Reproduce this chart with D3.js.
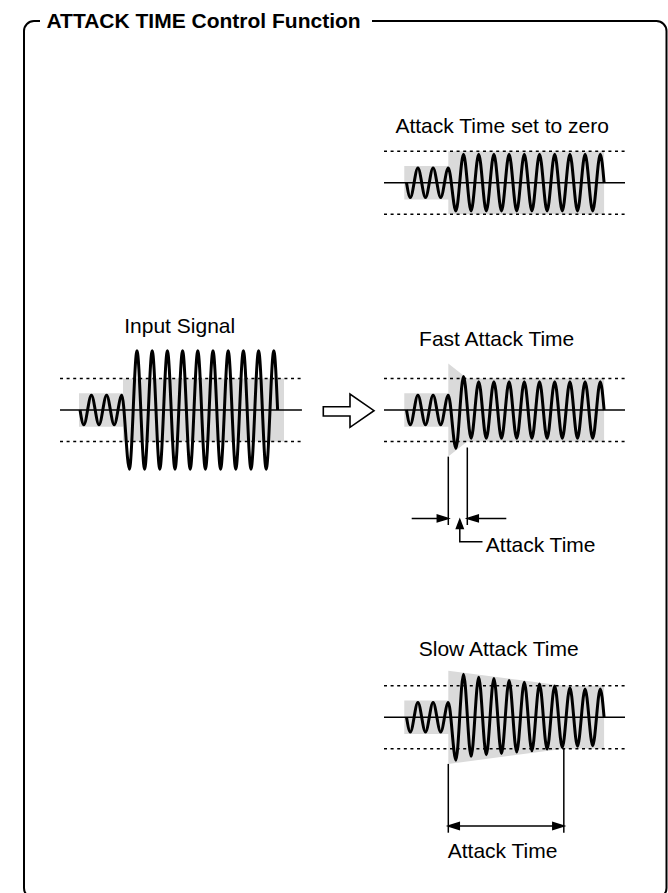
<!DOCTYPE html>
<html><head><meta charset="utf-8">
<script src="https://cdn.jsdelivr.net/npm/d3@7"></script>
<style>
html,body{margin:0;padding:0;background:#fff;}
svg{display:block;}
text{font-family:"Liberation Sans",Arial,Helvetica,sans-serif;fill:#000;}
</style>
</head><body>
<svg id="chart" width="668" height="893"></svg>
<script>
// ---------- DATA (peak amplitude of each half-cycle, threshold = 1) ----------
const inputPeaks = [0.47,0.47,0.47,0.47,0.47,0.47,
  1.88,1.88,1.88,1.88,1.88,1.88,1.88,1.88,1.88,1.88,
  1.88,1.88,1.88,1.88,1.88,1.88,1.88,1.88,1.88,1.88];
const zeroPeaks = [0.47,0.47,0.47,0.47,0.47,0.47,
  0.90,0.90,0.90,0.90,0.90,0.90,0.90,0.90,0.90,0.90,
  0.90,0.90,0.90,0.90,0.90,0.90,0.90,0.90,0.90,0.90];
const fastPeaks = [0.47,0.47,0.47,0.47,0.47,0.47,
  1.22,1.06,0.90,0.90,0.90,0.90,0.90,0.90,0.90,0.90,
  0.90,0.90,0.90,0.90,0.90,0.90,0.90,0.90,0.90,0.90];
const slowPeaks = [0.47,0.47,0.47,0.47,0.47,0.47,
  1.36,1.37,1.24,1.27,1.19,1.23,1.15,1.17,1.10,1.11,
  1.06,1.06,1.01,0.99,0.96,0.94,0.92,0.90,0.90,0.90];

// envelope (gray) : [time in half-cycles, level]
const inputEnvelope = [[-0.13,0.53],[5.66,0.53],[5.66,1.0],[26.84,1.0]];
const zeroEnvelope  = [[-0.29,0.53],[5.5,0.53],[5.5,1.0],[26,1.0]];
const fastEnvelope  = [[-0.29,0.53],[5.5,0.53],[5.5,1.48],[8.0,1.0],[26,1.0]];
const slowEnvelope  = [[-0.29,0.53],[5.5,0.53],[5.5,1.48],[20.7,1.0],[26,1.0]];

const thresholds = [-1, 1];
const labels = {
  title: "ATTACK TIME Control Function",
  input: "Input Signal",
  zero: "Attack Time set to zero",
  fast: "Fast Attack Time",
  slow: "Slow Attack Time",
  attack: "Attack Time"
};

// ---------- LAYOUT ----------
const W = 668, H = 893;
const svg = d3.select("#chart");
const unitPx = 31.5, waveWidth = 197.6;

const panels = [
  {key:"input", peaks:inputPeaks, env:inputEnvelope, x0:80,    cy:410,   lineT:[-2.63,29.2], tx:179.7, ty:333},
  {key:"zero",  peaks:zeroPeaks,  env:zeroEnvelope,  x0:406.5, cy:182.7, lineT:[-2.96,28.75], tx:502.2, ty:132.7},
  {key:"fast",  peaks:fastPeaks,  env:fastEnvelope,  x0:406.5, cy:410,   lineT:[-2.96,28.75], tx:496.7, ty:346},
  {key:"slow",  peaks:slowPeaks,  env:slowEnvelope,  x0:406.5, cy:717.3, lineT:[-2.96,28.75], tx:498.7, ty:656}
];

// frame with gap for title
svg.append("path")
  .attr("d","M372,21 H656.5 A10,10 0 0 1 666.5,31 V888 A10,10 0 0 1 656.5,898 H34 A10,10 0 0 1 24,888 V31 A10,10 0 0 1 34,21 H40")
  .attr("fill","none").attr("stroke","#000").attr("stroke-width",2);
svg.append("text").attr("x",46.5).attr("y",27.5)
  .attr("font-size",21).attr("font-weight","bold").text(labels.title);

panels.forEach(p => {
  p.x = d3.scaleLinear().domain([0,26]).range([p.x0, p.x0 + waveWidth]);
  p.y = d3.scaleLinear().domain([-1,1]).range([p.cy + unitPx, p.cy - unitPx]);
  const g = svg.append("g");
  // gray envelope
  g.append("path")
    .attr("d", d3.area().x(d=>p.x(d[0])).y0(d=>p.y(-d[1])).y1(d=>p.y(d[1]))(p.env))
    .attr("fill","#dadada");
  // threshold dotted lines
  g.selectAll("line.th").data(thresholds).join("line")
    .attr("x1",p.x(p.lineT[0])).attr("x2",p.x(p.lineT[1]))
    .attr("y1",d=>p.y(d)).attr("y2",d=>p.y(d))
    .attr("stroke","#000").attr("stroke-width",1.4).attr("stroke-dasharray","3,3.6");
  // center line
  g.append("line")
    .attr("x1",p.x(p.lineT[0])).attr("x2",p.x(p.lineT[1]))
    .attr("y1",p.y(0)).attr("y2",p.y(0))
    .attr("stroke","#000").attr("stroke-width",1.6);
  // waveform
  const pts = [[0,0]].concat(p.peaks.map((a,k)=>[k+0.5, k%2===0 ? -a : a]), [[26,0]]);
  g.append("path")
    .attr("d", d3.line().x(d=>p.x(d[0])).y(d=>p.y(d[1])).curve(d3.curveMonotoneX)(pts))
    .attr("fill","none").attr("stroke","#000").attr("stroke-width",3).attr("stroke-linejoin","round");
  // title
  g.append("text").attr("x",p.tx).attr("y",p.ty).attr("text-anchor","middle")
    .attr("font-size",21).text(labels[p.key]);
});

// big hollow arrow between input and outputs
svg.append("path")
  .attr("d","M323.3,406.7 H350 V394 L374,410.7 L350,427.3 V416 H323.3 Z")
  .attr("fill","#fff").attr("stroke","#000").attr("stroke-width",1.6);

function head(g, x, y, dir){ // dir: 'r','l','u'
  const L = 11, hw = 3.4;
  let d;
  if(dir==='r') d = `M${x},${y} L${x-L},${y-hw} L${x-L},${y+hw} Z`;
  if(dir==='l') d = `M${x},${y} L${x+L},${y-hw} L${x+L},${y+hw} Z`;
  if(dir==='u') d = `M${x},${y} L${x-hw},${y+L-2} L${x+hw},${y+L-2} Z`;
  g.append("path").attr("d",d).attr("fill","#000");
}
const ann = svg.append("g").attr("stroke","#000").attr("stroke-width",1.5);

// Fast attack annotation
{
  const p = panels[2], e = p.env;
  const a = e[2], b = e[3];
  const x1 = p.x(a[0]), x2 = p.x(b[0]);
  const yEnd = p.cy + 115, ya = p.cy + 108.4;
  ann.append("line").attr("x1",x1).attr("x2",x1).attr("y1",p.y(-a[1])).attr("y2",yEnd);
  ann.append("line").attr("x1",x2).attr("x2",x2).attr("y1",p.y(-b[1])+6).attr("y2",yEnd);
  ann.append("line").attr("x1",x1-36.6).attr("x2",x1-4).attr("y1",ya).attr("y2",ya);
  head(ann, x1, ya, 'r');
  ann.append("line").attr("x1",x2+39).attr("x2",x2+4).attr("y1",ya).attr("y2",ya);
  head(ann, x2, ya, 'l');
  const xm = (x1+x2)/2 + 2, tip = ya + 1.2, yElb = p.cy + 131.7;
  head(ann, xm, tip, 'u');
  ann.append("path").attr("d",`M${xm},${tip+6} V${yElb} H${xm+22.7}`).attr("fill","none");
  svg.append("text").attr("x",xm+26).attr("y",p.cy+141.7).attr("font-size",21).text(labels.attack);
}
// Slow attack annotation
{
  const p = panels[3], e = p.env;
  const a = e[2], b = e[3];
  const x1 = p.x(a[0]), x2 = p.x(b[0]);
  const yEnd = p.cy + 115.4, ya = p.cy + 108.7;
  ann.append("line").attr("x1",x1).attr("x2",x1).attr("y1",p.y(-a[1])).attr("y2",yEnd);
  ann.append("line").attr("x1",x2).attr("x2",x2).attr("y1",p.y(-b[1])).attr("y2",yEnd);
  ann.append("line").attr("x1",x1+4).attr("x2",x2-4).attr("y1",ya).attr("y2",ya);
  head(ann, x1, ya, 'l');
  head(ann, x2, ya, 'r');
  svg.append("text").attr("x",(x1+x2)/2 - 3.5).attr("y",p.cy+141).attr("text-anchor","middle")
    .attr("font-size",21).text(labels.attack);
}
</script>
</body></html>
